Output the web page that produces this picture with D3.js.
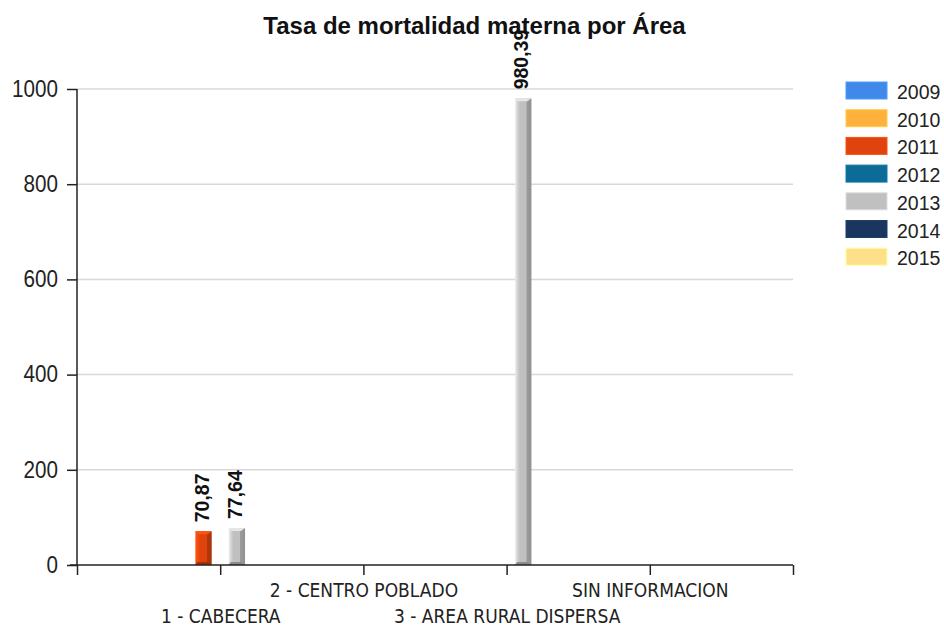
<!DOCTYPE html>
<html>
<head>
<meta charset="utf-8">
<script src="https://cdn.jsdelivr.net/npm/d3@7"></script>
<style>
  html, body { margin: 0; padding: 0; background: #fff; }
  svg { display: block; }
</style>
</head>
<body>
<svg id="chart" width="944" height="626"></svg>
<script>
// ---- data ----
const title = "Tasa de mortalidad materna por Área";
const categories = ["1 - CABECERA", "2 - CENTRO POBLADO", "3 - AREA RURAL DISPERSA", "SIN INFORMACION"];
const years = ["2009", "2010", "2011", "2012", "2013", "2014", "2015"];
const colors = ["#4189e8", "#ffb13d", "#e0440e", "#0d6b97", "#c0c0c0", "#1b365e", "#ffe08a"];
const values2009 = [0, 0, 0, 0];
const values2010 = [0, 0, 0, 0];
const values2011 = [70.87, 0, 0, 0];
const values2012 = [0, 0, 0, 0];
const values2013 = [77.64, 0, 980.39, 0];
const values2014 = [0, 0, 0, 0];
const values2015 = [0, 0, 0, 0];
const seriesValues = [values2009, values2010, values2011, values2012, values2013, values2014, values2015];
const yTicks = [0, 200, 400, 600, 800, 1000];

(function () {
// ---- layout ----
const svg = d3.select("#chart");
const mLeft = 77, mRight = 793, mTop = 89, mBottom = 565;
const regular = "'Liberation Sans', Arial, sans-serif";

const x = d3.scaleLinear().domain([0, categories.length + 1]).range([mLeft, mRight]);
const y = d3.scaleLinear().domain([0, 1000]).range([mBottom, mTop]);
const catPos = categories.map((c, i) => i + 1);
const groupWidth = 117;
const x1 = d3.scaleBand().domain(years).range([-groupWidth / 2, groupWidth / 2]).padding(0.02);

// gridlines
svg.append("g").selectAll("line").data(yTicks.filter(d => d > 0)).join("line")
  .attr("x1", mLeft).attr("x2", mRight)
  .attr("y1", d => y(d)).attr("y2", d => y(d))
  .attr("stroke", "#d8d8d8").attr("stroke-width", 1.5);

// gradients
const defs = svg.append("defs");
colors.forEach((c, i) => {
  const base = d3.color(c);
  const g = defs.append("linearGradient").attr("id", "grad" + i)
    .attr("x1", "0%").attr("x2", "100%").attr("y1", "0%").attr("y2", "0%");
  g.append("stop").attr("offset", "0%").attr("stop-color", base.brighter(0.6));
  g.append("stop").attr("offset", "18%").attr("stop-color", base.brighter(0.2));
  g.append("stop").attr("offset", "30%").attr("stop-color", base);
  g.append("stop").attr("offset", "68%").attr("stop-color", base);
  g.append("stop").attr("offset", "72%").attr("stop-color", base.darker(0.6));
  g.append("stop").attr("offset", "100%").attr("stop-color", base.darker(0.8));
});

// bars
const barData = [];
seriesValues.forEach((vals, si) => {
  vals.forEach((v, ci) => {
    if (v > 0) barData.push({ si, ci, v, year: years[si] });
  });
});
const bw = x1.bandwidth();
const bars = svg.append("g");
barData.forEach(d => {
  const bx = x(catPos[d.ci]) + x1(d.year);
  const by = y(d.v);
  const base = d3.color(colors[d.si]);
  bars.append("rect").attr("x", bx).attr("y", by).attr("width", bw).attr("height", y(0) - by)
    .attr("fill", `url(#grad${d.si})`);
  bars.append("path")
    .attr("d", `M${bx},${by} L${bx + bw},${by} L${bx + bw - 4},${by + 3} L${bx + 2},${by + 3} Z`)
    .attr("fill", base.brighter(0.5));
  bars.append("path")
    .attr("d", `M${bx + 2},${y(0) - 3} L${bx + bw - 4},${y(0) - 3} L${bx + bw},${y(0)} L${bx},${y(0)} Z`)
    .attr("fill", base.darker(0.9));
});

// value labels
svg.append("g").selectAll("text").data(barData).join("text")
  .attr("transform", d => {
    const cx = x(catPos[d.ci]) + x1(d.year) + bw / 2;
    return `translate(${cx + 5},${y(d.v) - 9}) rotate(-90)`;
  })
  .attr("font-family", regular).attr("font-weight", "bold").attr("font-size", 19.5)
  .attr("fill", "#111")
  .text(d => d3.format(".2f")(d.v).replace(".", ","));

// y axis
const yAxis = svg.append("g").attr("transform", `translate(${mLeft},0)`)
  .call(d3.axisLeft(y).tickValues(yTicks).tickSize(10).tickPadding(9).tickFormat(d3.format("d")));
yAxis.select(".domain").attr("stroke", "#222").attr("stroke-width", 1.5).attr("d", `M0,${mTop}V${mBottom}`);
yAxis.selectAll(".tick line").attr("stroke", "#222").attr("stroke-width", 1.5);
yAxis.selectAll(".tick text").attr("font-family", regular).attr("font-size", 24).attr("fill", "#222")
  .attr("dy", "0.3em")
  .each(function () {
    const w = this.getComputedTextLength();
    d3.select(this).attr("textLength", w * 0.86).attr("lengthAdjust", "spacingAndGlyphs");
  });

// x axis
const xAxis = svg.append("g").attr("transform", `translate(0,${mBottom})`)
  .call(d3.axisBottom(x).tickValues(d3.range(0, categories.length + 2)).tickSize(10)
    .tickFormat(d => (d >= 1 && d <= categories.length) ? categories[d - 1] : ""));
xAxis.select(".domain").attr("stroke", "#222").attr("stroke-width", 1.5).attr("d", `M${mLeft - 7},0H${mRight}`);
xAxis.selectAll(".tick line").attr("stroke", "#222").attr("stroke-width", 1.5);
xAxis.selectAll(".tick text").attr("font-family", "'DejaVu Sans Condensed', 'Liberation Sans', sans-serif")
  .attr("font-size", 19).attr("fill", "#222")
  .attr("dy", null)
  .attr("y", d => (d % 2 === 1) ? 58 : 32);

// legend
const legend = svg.append("g");
years.forEach((yr, i) => {
  const ly = 82 + i * 27.7;
  legend.append("rect").attr("x", 846).attr("y", ly).attr("width", 41).attr("height", 17)
    .attr("fill", colors[i]).attr("stroke", d3.color(colors[i]).brighter(0.4)).attr("stroke-width", 1);
  legend.append("text").attr("x", 897).attr("y", ly + 17)
    .attr("font-family", regular).attr("font-size", 19.5).attr("fill", "#222").text(yr);
});

// title
svg.append("text").attr("x", 474.5).attr("y", 34).attr("text-anchor", "middle")
  .attr("font-family", regular).attr("font-weight", "bold").attr("font-size", 24)
  .attr("fill", "#111").text(title);
})();
</script>
</body>
</html>
